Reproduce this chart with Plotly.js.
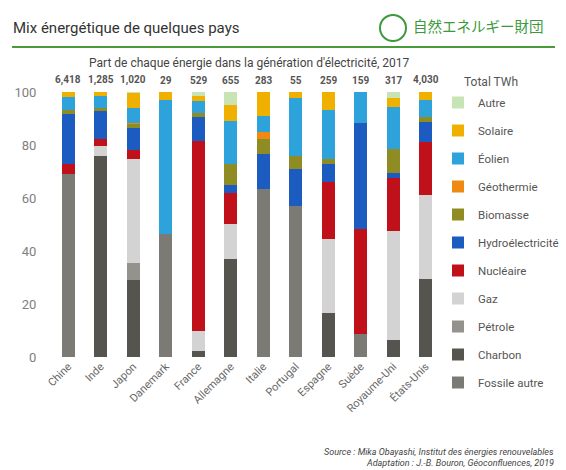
<!DOCTYPE html>
<html>
<head>
<meta charset="utf-8">
<script src="https://cdn.plot.ly/plotly-3.0.1.min.js"></script>
<style>html,body{margin:0;padding:0;background:#fff;}#chart{width:566px;height:470px;}</style>
</head>
<body>
<div id="chart"></div>
<script>
// ---- Data (percent of electricity generation, 2017) ----
const countries = ["Chine","Inde","Japon","Danemark","France","Allemagne","Italie","Portugal","Espagne","Suède","Royaume-Uni","États-Unis"];
const totalsTWh = ["6,418","1,285","1,020","29","529","655","283","55","259","159","317","4,030"];

const fossileAutre = [69.2, 0,    0,    46.5, 0,    0,    63.5, 57.0, 0,    8.8,  0,    0];
const charbon      = [0,    75.7, 28.9, 0,    2.3,  36.9, 0,    0,    16.7, 0,    6.3,  29.3];
const petrole      = [0,    0,    6.7,  0,    0,    0,    0,    0,    0,    0,    0,    0];
const gaz          = [0,    3.8,  39.2, 0,    7.5,  13.4, 0,    0,    28.0, 0,    41.1, 32.0];
const nucleaire    = [3.8,  2.9,  3.2,  0,    71.6, 11.6, 0,    0,    21.3, 39.4, 20.1, 19.8];
const hydro        = [18.8, 10.3, 8.4,  0,    9.2,  3.1,  13.2, 14.1, 7.0,  40.2, 2.1,  7.6];
const biomasse     = [1.3,  1.3,  1.6,  0,    1.5,  8.0,  5.7,  4.7,  1.8,  0,    8.8,  1.9];
const geothermie   = [0,    0,    0.3,  0,    0,    0,    2.5,  0,    0,    0,    0,    0];
const eolien       = [4.9,  4.5,  5.6,  50.4, 4.5,  15.9, 6.0,  21.9, 18.3, 11.6, 15.9, 6.3];
const solaire      = [1.9,  1.5,  5.6,  3.1,  2.0,  6.3,  9.1,  2.3,  6.9,  0,    3.4,  3.1];
const autre        = [0,    0,    5.7,  0,    1.5,  4.8,  0,    0,    0,    0,    2.3,  0];

const seriesNames = ["Fossile autre","Charbon","Pétrole","Gaz","Nucléaire","Hydroélectricité","Biomasse","Géothermie","Éolien","Solaire","Autre"];
const seriesValues = [fossileAutre, charbon, petrole, gaz, nucleaire, hydro, biomasse, geothermie, eolien, solaire, autre];
const seriesColors = ["#7b7a74","#55544e","#93928d","#d3d3d3","#c0101a","#1c5bbf","#8e8c22","#ee8a12","#2ea2da","#f0b000","#c8e3b4"];

// ---- geometry helpers (pixel -> paper) ----
const W = 566, H = 470;
const M = {l:52, r:124, t:92, b:113};
const PW = W - M.l - M.r, PH = H - M.t - M.b;
const px = x => (x - M.l) / PW;
const py = y => (H - M.b - y) / PH;

const traces = seriesNames.map((n, i) => ({
  type: "bar",
  name: n,
  x: countries,
  y: seriesValues[i],
  marker: {color: seriesColors[i], line: {width: 0}},
  legendgroup: "g" + i,
  legendrank: 100 - i,
  hoverinfo: "name+y"
}));

const annotations = countries.map((c, i) => ({
  xref: "x", yref: "paper", x: c, y: py(80), text: "<b>" + totalsTWh[i] + "</b>",
  showarrow: false, font: {family: "Roboto, sans-serif", size: 10, color: "#555"},
  xanchor: "center", yanchor: "middle"
}));

annotations.push(
  {xref:"paper", yref:"paper", x: px(11), y: py(28), xanchor:"left", yanchor:"middle", showarrow:false,
   text:"Mix énergétique de quelques pays", font:{family:"Roboto, sans-serif", size:15, color:"#333"}},
  {xref:"paper", yref:"paper", x: px(249), y: py(63), xanchor:"center", yanchor:"middle", showarrow:false,
   text:"Part de chaque énergie dans la génération d'électricité, 2017", font:{family:"Roboto, sans-serif", size:12, color:"#444"}},
  {xref:"paper", yref:"paper", x: px(411), y: py(25), xanchor:"left", yanchor:"middle", showarrow:false,
   text:"自然エネルギー財団", font:{family:"Noto Sans CJK JP, sans-serif", size:14.5, color:"#3c9a3c"}},
  {xref:"paper", yref:"paper", x: px(462), y: py(82), xanchor:"left", yanchor:"middle", showarrow:false,
   text:"Total TWh", font:{family:"Roboto, sans-serif", size:12, color:"#555"}},
  {xref:"paper", yref:"paper", x: px(556), y: py(452), xanchor:"right", yanchor:"middle", showarrow:false,
   text:"<i>Source : Mika Obayashi, Institut des énergies renouvelables</i>", font:{family:"Roboto, sans-serif", size:9, color:"#444"}},
  {xref:"paper", yref:"paper", x: px(556), y: py(463), xanchor:"right", yanchor:"middle", showarrow:false,
   text:"<i>Adaptation : J.-B. Bouron, Géoconfluences, 2019</i>", font:{family:"Roboto, sans-serif", size:9, color:"#444"}}
);

const shapes = [
  {type:"line", xref:"paper", yref:"paper", x0: px(12), x1: px(555), y0: py(47), y1: py(47),
   line:{color:"#4a9a3a", width:2}},
  {type:"circle", xref:"paper", yref:"paper", x0: px(380), x1: px(406), y0: py(41), y1: py(15),
   line:{color:"#3c9a3c", width:2}, fillcolor:"rgba(0,0,0,0)"}
];

const layout = {
  width: W, height: H,
  margin: Object.assign({autoexpand: false}, M),
  paper_bgcolor: "#fff", plot_bgcolor: "#fff",
  barmode: "stack",
  bargap: 0.615,
  showlegend: true,
  legend: {
    xref: "container", yref: "container",
    x: 438 / W, y: 1 - 88 / H, xanchor: "left", yanchor: "top",
    traceorder: "grouped",
    tracegroupgap: 9,
    maxheight: 420,
    font: {family: "Roboto, sans-serif", size: 11.5, color: "#555"},
    itemwidth: 30, bgcolor: "rgba(0,0,0,0)"
  },
  xaxis: {
    type: "category", tickangle: -45, showgrid: false, zeroline: false, showline: false,
    tickfont: {family: "Roboto, sans-serif", size: 11, color: "#666"}, fixedrange: true
  },
  yaxis: {
    range: [0, 100], tickvals: [0,20,40,60,80,100], showgrid: false, zeroline: false, showline: false,
    ticks: "outside", ticklen: 12, tickcolor: "rgba(0,0,0,0)",
    tickfont: {family: "Roboto, sans-serif", size: 13, color: "#808080"}, fixedrange: true
  },
  annotations: annotations,
  shapes: shapes,
  font: {family: "Roboto, sans-serif"}
};

Plotly.newPlot("chart", traces, layout, {displayModeBar: false, staticPlot: true});
</script>
</body>
</html>
